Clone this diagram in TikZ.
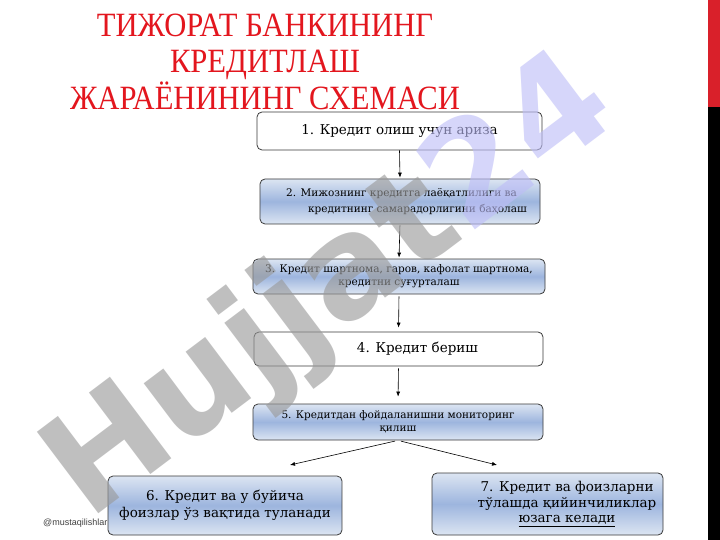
\documentclass[tikz,border=0pt]{standalone}
\usepackage{fontspec}
\setmainfont{DejaVu Serif}
\newfontfamily\titlefont{Liberation Serif}
\newfontfamily\wmfont{DejaVu Sans}
\newfontfamily\notefont{Liberation Sans}
\usetikzlibrary{arrows.meta}

\definecolor{titlered}{HTML}{E3161E}
\definecolor{barred}{HTML}{D9202A}
\definecolor{boxline}{HTML}{3A3A3A}
\definecolor{blueedge}{HTML}{DCE5F2}
\definecolor{bluemid}{HTML}{9DB5DE}
\definecolor{wmgray}{HTML}{999999}
\definecolor{wmlav}{HTML}{BDBDF7}

\begin{document}
\begin{tikzpicture}[x=1pt, y=-1pt,
  plainbox/.style={draw=boxline, line width=.8pt, rounded corners=5pt, fill=white, align=center, inner sep=2pt},
  bluebox/.style={plainbox, top color=blueedge, bottom color=blueedge, middle color=bluemid},
  ttl/.style={anchor=base, text=titlered, inner sep=0pt, font=\titlefont\fontsize{34}{36}\selectfont},
  arr/.style={-{Latex[length=5pt,width=4pt]}, line width=.6pt}]
\useasboundingbox (0,0) rectangle (720,540);
\fill[white] (0,0) rectangle (720,540);
\fill[barred] (708,0) rectangle (720,107);
\fill[black] (708,107) rectangle (720,540);

% title
\node[ttl] (ttl1) at (265,37) {\scalebox{.9}[1]{ТИЖОРАТ БАНКИНИНГ}};
\node[ttl] (ttl2) at (265,73) {\scalebox{.9}[1]{КРЕДИТЛАШ}};
\node[ttl] (ttl3) at (265,110) {\scalebox{.9}[1]{ЖАРАЁНИНИНГ СХЕМАСИ}};

% steps
\node[plainbox, minimum width=285pt, minimum height=38pt] (ariza) at (399.5,131) {\fontsize{13.5}{16}\selectfont 1. Кредит олиш учун ариза};
\node[bluebox, minimum width=280pt, minimum height=45pt] (baho) at (400,201.5) {\fontsize{10.5}{16}\selectfont\hspace*{13pt}\begin{tabular}{@{}r@{}}2. Мижознинг кредитга лаёқатлилиги ва\hspace*{10pt}\\ кредитнинг самарадорлигини баҳолаш\end{tabular}};
\node[bluebox, minimum width=292pt, minimum height=35pt] (shart) at (399,276.5) {\fontsize{10.5}{13}\selectfont\begin{tabular}{@{}c@{}}3. Кредит шартнома, гаров, кафолат шартнома,\\ кредитни суғурталаш\end{tabular}};
\node[plainbox, minimum width=289pt, minimum height=34pt] (berish) at (398.5,349) {\fontsize{13.5}{16}\selectfont\hspace*{38pt}4. Кредит бериш};
\node[bluebox, minimum width=290pt, minimum height=36pt] (monitor) at (398,422) {\fontsize{10.5}{13}\selectfont\begin{tabular}{@{}c@{}}5. Кредитдан фойдаланишни мониторинг\\ қилиш\end{tabular}};
\node[bluebox, minimum width=234pt, minimum height=59pt] (vaqtida) at (225,505.5) {\fontsize{13.5}{17}\selectfont\begin{tabular}{@{}c@{}}6. Кредит ва у буйича\\ фоизлар ўз вақтида туланади\end{tabular}};
\node[bluebox, minimum width=231pt, minimum height=62pt] (qiyin) at (547.5,504) {\fontsize{13.5}{15.5}\selectfont\hspace*{39pt}\begin{tabular}{@{}c@{}}7. Кредит ва фоизларни\\ тўлашда қийинчиликлар\\ \underline{юзага келади}\end{tabular}};

\coordinate (to6) at (290,465);
\coordinate (to7) at (497,465);

\draw[arr, shorten >=1pt] (ariza.south) -- (baho.north);
\draw[arr, shorten <=1pt, shorten >=1pt] (baho.south) -- (shart.north);
\draw[arr, shorten <=2pt, shorten >=4pt] (shart.south) -- (berish.north);
\draw[arr, shorten <=2pt, shorten >=7pt] (berish.south) -- (monitor.north);
\draw[arr, shorten <=3pt] (monitor.south) -- (to6);
\draw[arr, shorten <=3pt] (monitor.south) -- (to7);

\node[anchor=base west, inner sep=0pt, text=black!75, font=\notefont\fontsize{9}{9}\selectfont] (tag) at (43,525) {@mustaqilishlar};

% watermark
\node[rotate=37, anchor=base west, inner sep=0pt, opacity=.62, font=\wmfont\bfseries\fontsize{140}{140}\selectfont] (wm) at (88,522) {\color{wmgray}Hujjat\color{wmlav}24};
\end{tikzpicture}
\end{document}
